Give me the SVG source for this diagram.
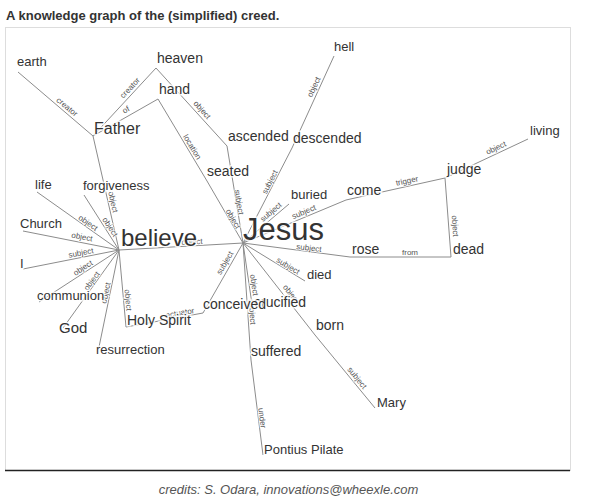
<svg xmlns="http://www.w3.org/2000/svg" width="600" height="500" viewBox="0 0 600 500">
<style>
text{font-family:"Liberation Sans",Arial,sans-serif}
.title{font-size:13px;font-weight:bold;fill:#333}
.credits{font-size:13px;font-style:italic;fill:#555}
.frame{fill:#fff;stroke:#ddd;stroke-width:1}
.rule{stroke:#222;stroke-width:1.5}
#connectors line{stroke:#8c8c8c;stroke-width:1}
.el{font-size:8px;fill:#555;text-anchor:middle;dominant-baseline:central;stroke:#fff;stroke-width:2;stroke-opacity:0.7;paint-order:stroke}
.nl{fill:#333;stroke:#fff;stroke-width:3;stroke-opacity:0.8;paint-order:stroke;font-size:14px}
.s13{font-size:13px}
.s15{font-size:15px}
.s16{font-size:16px}
.s24{font-size:24px}
.s31{font-size:31px}
</style>
<text class="title" x="6" y="20">A knowledge graph of the (simplified) creed.</text>
<rect class="frame" x="5.5" y="27.5" width="565" height="443"/>
<line class="rule" x1="5" y1="470.5" x2="570" y2="470.5"/>
<text class="credits" x="288.5" y="494" text-anchor="middle">credits: S. Odara, innovations@wheexle.com</text>

<g id="connectors">
<line x1="18" y1="72" x2="93" y2="136"/>
<line x1="156" y1="68" x2="93" y2="136"/>
<line x1="158" y1="99" x2="93" y2="136"/>
<line x1="156" y1="68" x2="227" y2="146"/>
<line x1="158" y1="99" x2="207" y2="181"/>
<line x1="334" y1="56" x2="292" y2="148"/>
<line x1="93" y1="136" x2="119" y2="250"/>
<line x1="37" y1="192" x2="119" y2="250"/>
<line x1="84" y1="195" x2="119" y2="250"/>
<line x1="23" y1="231" x2="119" y2="250"/>
<line x1="23" y1="269" x2="119" y2="250"/>
<line x1="39" y1="302" x2="119" y2="250"/>
<line x1="63" y1="328" x2="119" y2="250"/>
<line x1="99" y1="347" x2="119" y2="250"/>
<line x1="126" y1="327" x2="119" y2="250"/>
<line x1="119" y1="250" x2="243" y2="243"/>
<line x1="126" y1="327" x2="203" y2="313"/>
<line x1="227" y1="146" x2="243" y2="243"/>
<line x1="207" y1="181" x2="243" y2="243"/>
<line x1="292" y1="148" x2="243" y2="243"/>
<line x1="289" y1="204" x2="243" y2="243"/>
<line x1="346" y1="200" x2="243" y2="243"/>
<line x1="346" y1="200" x2="445" y2="178"/>
<line x1="445" y1="178" x2="528" y2="139"/>
<line x1="445" y1="178" x2="451" y2="257"/>
<line x1="350" y1="257" x2="451" y2="257"/>
<line x1="350" y1="257" x2="243" y2="243"/>
<line x1="305" y1="281" x2="243" y2="243"/>
<line x1="203" y1="313" x2="243" y2="243"/>
<line x1="253" y1="311" x2="243" y2="243"/>
<line x1="251" y1="360" x2="243" y2="243"/>
<line x1="315" y1="335" x2="243" y2="243"/>
<line x1="315" y1="335" x2="375" y2="408"/>
<line x1="251" y1="360" x2="263" y2="455"/>
</g>

<g id="edge-labels">
<text class="el" transform="translate(67,107) rotate(40)">creator</text>
<text class="el" transform="translate(130,88) rotate(-47)">creator</text>
<text class="el" transform="translate(126,110) rotate(-30)">of</text>
<text class="el" transform="translate(202,110) rotate(48)">object</text>
<text class="el" transform="translate(192,147) rotate(59)">location</text>
<text class="el" transform="translate(314,87) rotate(-65)">object</text>
<text class="el" transform="translate(113,202) rotate(77)">object</text>
<text class="el" transform="translate(88,223) rotate(35)">object</text>
<text class="el" transform="translate(110,227) rotate(57)">object</text>
<text class="el" transform="translate(82,237) rotate(11)">object</text>
<text class="el" transform="translate(81,253) rotate(-11)">subject</text>
<text class="el" transform="translate(83,268) rotate(-33)">object</text>
<text class="el" transform="translate(92,281) rotate(-54)">object</text>
<text class="el" transform="translate(106,293) rotate(-78)">object</text>
<text class="el" transform="translate(128,300) rotate(85)">object</text>
<text class="el" transform="translate(192,242) rotate(-3)">object</text>
<text class="el" transform="translate(180,313) rotate(-10)">actuator</text>
<text class="el" transform="translate(239,202) rotate(81)">subject</text>
<text class="el" transform="translate(233,219) rotate(60)">object</text>
<text class="el" transform="translate(270,182) rotate(-63)">subject</text>
<text class="el" transform="translate(271,212) rotate(-40)">subject</text>
<text class="el" transform="translate(304,212) rotate(-23)">subject</text>
<text class="el" transform="translate(407,181) rotate(-12)">trigger</text>
<text class="el" transform="translate(496,148) rotate(-25)">object</text>
<text class="el" transform="translate(455,226) rotate(86)">object</text>
<text class="el" transform="translate(410,252)">from</text>
<text class="el" transform="translate(309,248) rotate(7)">subject</text>
<text class="el" transform="translate(288,266) rotate(31)">subject</text>
<text class="el" transform="translate(225,263) rotate(-60)">subject</text>
<text class="el" transform="translate(254,285) rotate(82)">object</text>
<text class="el" transform="translate(252,312) rotate(86)">subject</text>
<text class="el" transform="translate(291,294) rotate(52)">object</text>
<text class="el" transform="translate(357,378) rotate(51)">subject</text>
<text class="el" transform="translate(262,418) rotate(83)">under</text>
</g>

<g id="node-earth"><text class="nl s13" x="17" y="66">earth</text></g>
<g id="node-heaven"><text class="nl" x="157" y="63">heaven</text></g>
<g id="node-hand"><text class="nl" x="159" y="94">hand</text></g>
<g id="node-father"><text class="nl s16" x="94" y="134">Father</text></g>
<g id="node-hell"><text class="nl s13" x="334" y="51">hell</text></g>
<g id="node-ascended"><text class="nl" x="228" y="141">ascended</text></g>
<g id="node-descended"><text class="nl" x="293" y="143">descended</text></g>
<g id="node-seated"><text class="nl" x="207" y="176">seated</text></g>
<g id="node-buried"><text class="nl s13" x="291" y="199">buried</text></g>
<g id="node-come"><text class="nl" x="347" y="195">come</text></g>
<g id="node-judge"><text class="nl" x="447" y="174">judge</text></g>
<g id="node-living"><text class="nl s13" x="530" y="135">living</text></g>
<g id="node-dead"><text class="nl" x="453" y="254">dead</text></g>
<g id="node-rose"><text class="nl" x="352" y="254">rose</text></g>
<g id="node-died"><text class="nl s13" x="307" y="279">died</text></g>
<g id="node-born"><text class="nl" x="316" y="330">born</text></g>
<g id="node-mary"><text class="nl s13" x="377" y="407">Mary</text></g>
<g id="node-suffered"><text class="nl" x="251" y="356">suffered</text></g>
<g id="node-pilate"><text class="nl s13" x="264" y="454">Pontius Pilate</text></g>
<g id="node-crucified"><text class="nl" x="254" y="307">crucified</text></g>
<g id="node-conceived"><text class="nl" x="203" y="309">conceived</text></g>
<g id="node-holyspirit"><text class="nl" x="127" y="325">Holy Spirit</text></g>
<g id="node-resurrection"><text class="nl s13" x="96" y="354">resurrection</text></g>
<g id="node-god"><text class="nl s15" x="59" y="333">God</text></g>
<g id="node-communion"><text class="nl s13" x="37" y="300">communion</text></g>
<g id="node-i"><text class="nl s13" x="20" y="268">I</text></g>
<g id="node-church"><text class="nl s13" x="20" y="228">Church</text></g>
<g id="node-life"><text class="nl s13" x="35" y="189">life</text></g>
<g id="node-forgiveness"><text class="nl s13" x="83" y="190">forgiveness</text></g>
<g id="node-believe"><text class="nl s24" x="121" y="246">believe</text></g>
<g id="node-jesus"><text class="nl s31" x="243" y="240">Jesus</text></g>
</svg>
